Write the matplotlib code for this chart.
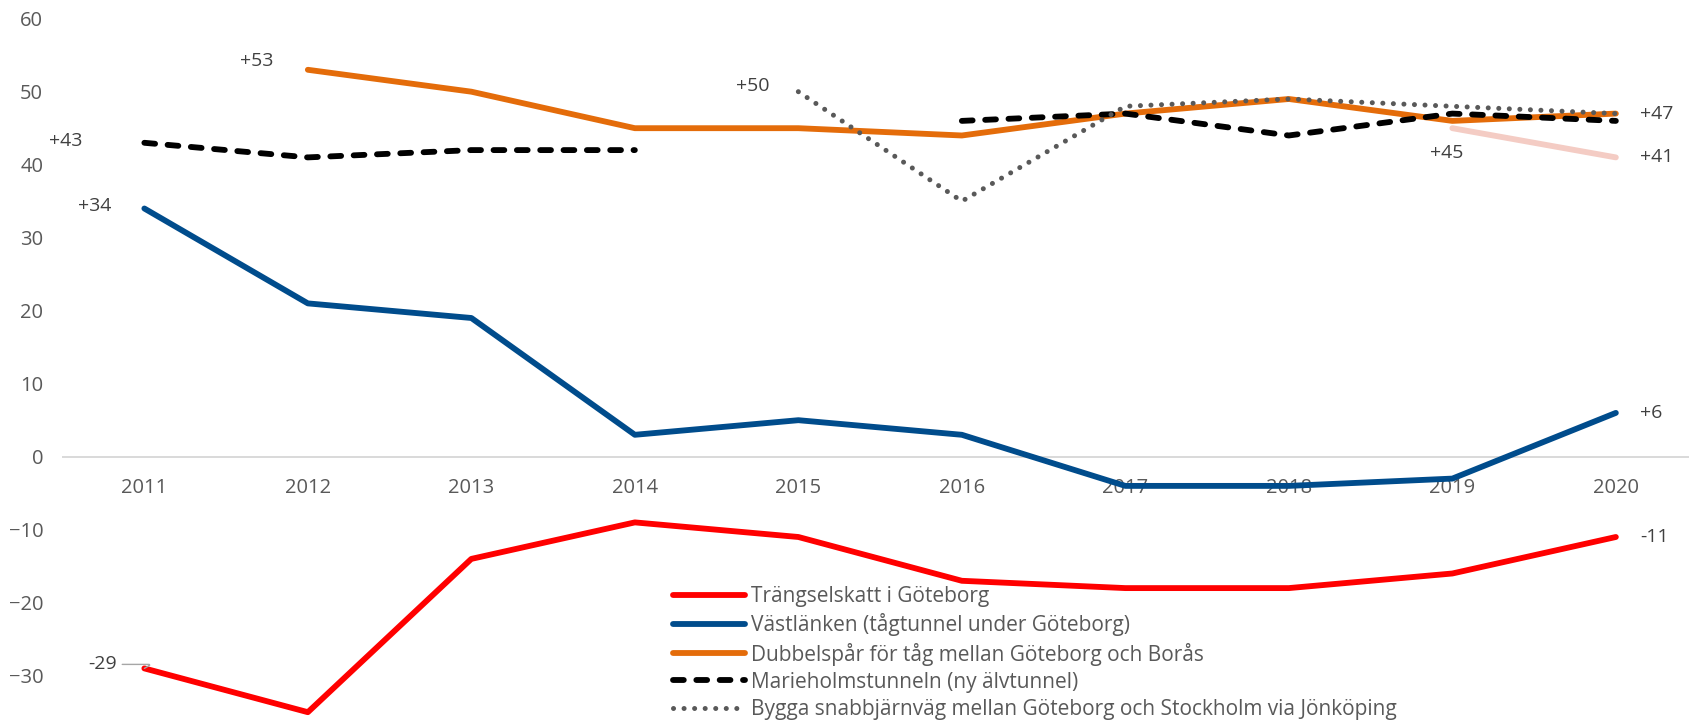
import numpy as np
import matplotlib
matplotlib.use("Agg")
import matplotlib.pyplot as plt

# Data
years = list(range(2011, 2021))
nan = np.nan

trangselskatt = [-29, -35, -14, -9, -11, -17, -18, -18, -16, -11]
vastlanken    = [34, 21, 19, 3, 5, 3, -4, -4, -3, 6]
dubbelspar    = [nan, 53, 50, 45, 45, 44, 47, 49, 46, 47]
marieholm     = [43, 41, 42, 42, nan, 46, 47, 44, 47, 46]
snabbjarnvag  = [nan, nan, nan, nan, 50, 35, 48, 49, 48, 47]
extra_serie   = [nan, nan, nan, nan, nan, nan, nan, nan, 45, 41]

labels = [
    "Trängselskatt i Göteborg",
    "Västlänken (tågtunnel under Göteborg)",
    "Dubbelspår för tåg mellan Göteborg och Borås",
    "Marieholmstunneln (ny älvtunnel)",
    "Bygga snabbjärnväg mellan Göteborg och Stockholm via Jönköping",
]

# value labels: (text, year, value, dx px, dy px, ha)
point_labels = [
    ("+53", 2012, 53, -51, 9, "center"),
    ("+43", 2011, 43, -79, 2, "center"),
    ("+34", 2011, 34, -50, 2, "center"),
    ("+50", 2015, 50, -46, 6, "center"),
    ("+45", 2019, 45, -6, -25, "center"),
    ("+47", 2020, 47, 24, 0, "left"),
    ("+41", 2020, 41, 24, 0, "left"),
    ("+6", 2020, 6, 24, 0, "left"),
    ("-11", 2020, -11, 24, 0, "left"),
]

TXT = "#404040"
TICK = "#595959"
tick_font = ["Open Sans", "DejaVu Sans"]
leg_font = ["Open Sans", "DejaVu Sans"]

fig = plt.figure(figsize=(16.89, 7.23), dpi=100)
left = 62.6 / 1689
ax = fig.add_axes([left, 0, 1 - left, 1])
ax.set_xlim(2010.5, 2010.5 + (1689 - 62.6) / 163.5)
ax.set_ylim(-36.48, 62.56)

lw = 4.2
ax.plot(years, trangselskatt, color="#FF0000", lw=lw, solid_capstyle="round", label=labels[0], zorder=3)
ax.plot(years, vastlanken, color="#004C8C", lw=lw, solid_capstyle="round", label=labels[1], zorder=3)
ax.plot(years, dubbelspar, color="#E46C0A", lw=lw, solid_capstyle="round", label=labels[2], zorder=3)
ax.plot(years, marieholm, color="black", lw=lw, linestyle=(0, (1.85, 2.15)),
        dash_capstyle="round", label=labels[3], zorder=4)
ax.plot(years, snabbjarnvag, color="#595959", lw=3.6, linestyle=(0, (0.01, 2.1)),
        dash_capstyle="round", label=labels[4], zorder=5)
ax.plot(years, extra_serie, color="#F4CCC4", lw=lw, solid_capstyle="round", zorder=3)

for txt, x, y, dx, dy, ha in point_labels:
    ax.annotate(txt, xy=(x, y), xytext=(dx, dy), textcoords="offset pixels",
                ha=ha, va="center", fontsize=14, color=TXT, family=tick_font)

# -29 with a leader line
ax.annotate("-29", xy=(2011, -29), xytext=(-42, 4), textcoords="offset pixels",
            ha="center", va="center", fontsize=14, color=TXT, family=tick_font,
            arrowprops=dict(arrowstyle="-", color="#A6A6A6", lw=1, shrinkA=2, shrinkB=0,
                            connectionstyle="angle,angleA=0,angleB=30,rad=3"))

# axes styling
for s in ["top", "right", "left"]:
    ax.spines[s].set_visible(False)
ax.spines["bottom"].set_position(("data", 0))
ax.spines["bottom"].set_color("#D9D9D9")
ax.spines["bottom"].set_linewidth(1.4)
ax.spines["bottom"].set_zorder(1)

ax.set_xticks(years)
ax.set_yticks(range(-30, 61, 10))
ax.tick_params(axis="both", length=0, labelsize=14.5, labelcolor=TICK)
ax.tick_params(axis="x", pad=15)
ax.tick_params(axis="y", pad=14)
for t in ax.get_xticklabels() + ax.get_yticklabels():
    t.set_family(tick_font)

leg = ax.legend(loc="upper left", bbox_to_anchor=(673 / 1689, 1 - 586 / 723),
                bbox_transform=fig.transFigure, frameon=False,
                prop={"family": leg_font, "size": 15},
                handlelength=3.45, handletextpad=0.3, labelspacing=0.3,
                borderaxespad=0, borderpad=0)
for t in leg.get_texts():
    t.set_color(TICK)

fig.savefig("out.png", dpi=100)
